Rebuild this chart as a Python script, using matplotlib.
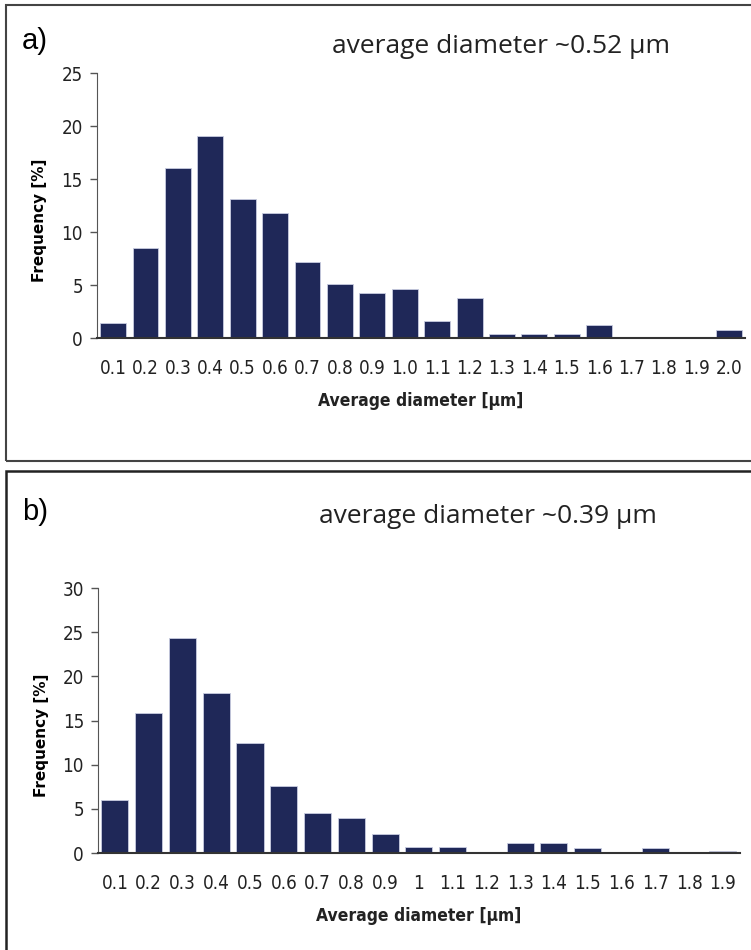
import matplotlib.pyplot as plt
from matplotlib import font_manager
from matplotlib.patches import Rectangle

# size classes and frequencies for the two samples
labels_a = ['0.1', '0.2', '0.3', '0.4', '0.5', '0.6', '0.7', '0.8', '0.9', '1.0',
            '1.1', '1.2', '1.3', '1.4', '1.5', '1.6', '1.7', '1.8', '1.9', '2.0']
freq_a = [1.4, 8.5, 16.1, 19.1, 13.1, 11.85, 7.2, 5.1, 4.25, 4.65,
          1.65, 3.8, 0.43, 0.43, 0.43, 1.25, 0, 0, 0, 0.77]

labels_b = ['0.1', '0.2', '0.3', '0.4', '0.5', '0.6', '0.7', '0.8', '0.9', '1',
            '1.1', '1.2', '1.3', '1.4', '1.5', '1.6', '1.7', '1.8', '1.9']
freq_b = [6.0, 15.9, 24.3, 18.1, 12.5, 7.6, 4.5, 3.93, 2.13, 0.73,
          0.73, 0, 1.1, 1.1, 0.57, 0, 0.57, 0, 0.2]

bar_color = '#1f2858'


def narrow_font(size, weight='normal'):
    # look for any condensed face on the system, else plain DejaVu
    for f in font_manager.fontManager.ttflist:
        if 'Italic' in f.style or f.style != 'normal':
            continue
        want_bold = weight == 'bold'
        is_bold = f.weight in (600, 700, 'bold', 'semibold')
        if want_bold != is_bold:
            continue
        if f.stretch == 'condensed' or 'Narrow' in f.name or 'Condensed' in f.name:
            return font_manager.FontProperties(fname=f.fname, size=size)
    return font_manager.FontProperties(family='DejaVu Sans', size=size, weight=weight)


tick_font = narrow_font(13.5)
xlab_font = narrow_font(12.5, 'bold')


def draw_panel(ax, labels, freq, ymax):
    x = range(len(labels))
    ax.bar(x, freq, width=0.8, color=bar_color, edgecolor='#c8cce0', linewidth=0.6)
    ax.set_xlim(-0.5, len(labels) - 0.5)
    ax.set_ylim(0, ymax)
    ax.set_yticks(range(0, ymax + 1, 5))
    ax.set_xticks(list(x))
    ax.set_xticklabels(labels)
    for t in ax.get_xticklabels() + ax.get_yticklabels():
        t.set_fontproperties(tick_font)
        t.set_color('#222222')
    ax.tick_params(axis='x', length=0, pad=15)
    ax.tick_params(axis='y', direction='out', length=5, width=1, color='#555555', pad=5)
    for side in ['top', 'right']:
        ax.spines[side].set_visible(False)
    ax.spines['left'].set_color('#555555')
    ax.spines['bottom'].set_color('#333333')
    ax.spines['bottom'].set_linewidth(1.5)
    ax.set_ylabel('Frequency [%]', fontsize=11, fontweight='bold')
    ax.yaxis.set_label_coords(-0.077, 0.445)
    ax.set_xlabel('Average diameter [µm]', fontproperties=xlab_font,
                  labelpad=10, color='#222222')


fig = plt.figure(figsize=(7.51, 9.5), dpi=100)

# frames around each panel
fig.add_artist(Rectangle((0.008, 0.5147), 0.995, 0.48, transform=fig.transFigure,
                         fill=False, edgecolor='#444444', linewidth=1.5))
fig.add_artist(Rectangle((0.008, -0.05), 1.0, 0.554, transform=fig.transFigure,
                         fill=False, edgecolor='#222222', linewidth=1.8))

ax1 = fig.add_axes([0.129, 0.644, 0.863, 0.279])
draw_panel(ax1, labels_a, freq_a, 25)

ax2 = fig.add_axes([0.1305, 0.102, 0.8545, 0.279])
draw_panel(ax2, labels_b, freq_b, 30)

fig.text(0.029, 0.957, 'a)', fontsize=21, family='Liberation Sans', va='center', ha='left')
fig.text(0.667, 0.951, 'average diameter ~0.52 µm', fontsize=19, family='Open Sans',
         va='center', ha='center', color='#222222')
fig.text(0.029, 0.461, 'b)', fontsize=21, family='Liberation Sans', va='center', ha='left')
fig.text(0.650, 0.456, 'average diameter ~0.39 µm', fontsize=19, family='Open Sans',
         va='center', ha='center', color='#222222')

fig.savefig('out.png', dpi=100)
